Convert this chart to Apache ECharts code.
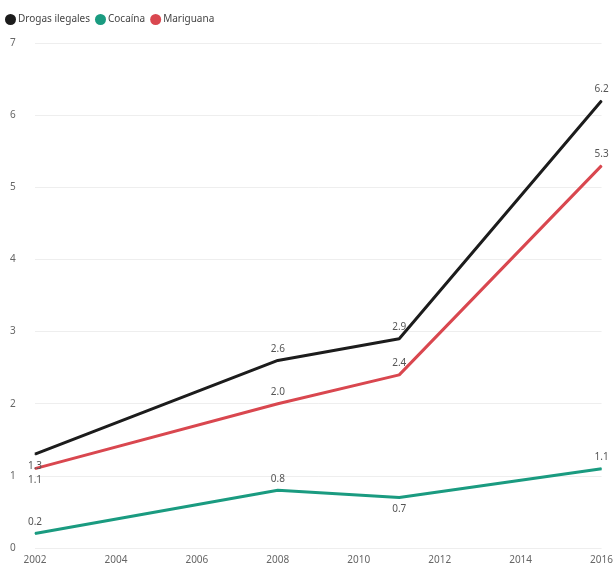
<!DOCTYPE html>
<html><head><meta charset="utf-8">
<script src="https://cdn.jsdelivr.net/npm/echarts@6/dist/echarts.min.js"></script>
<style>html,body{margin:0;padding:0;background:#fff}#c{width:616px;height:569px}</style>
</head><body><div id="c"></div>
<script>
const years = [2002, 2008, 2011, 2016];
const drogas = [1.3, 2.6, 2.9, 6.2];
const cocaina = [0.2, 0.8, 0.7, 1.1];
const mariguana = [1.1, 2.0, 2.4, 5.3];
const xTicks = [2002, 2004, 2006, 2008, 2010, 2012, 2014, 2016];

const lbl = () => ({
  show: true, fontSize: 10, color: '#555', fontFamily: 'Noto Sans', distance: 6,
  formatter: p => p.value[1].toFixed(1),
  position: 'top'
});
function mkData(arr, positions) {
  return years.map((y, i) => ({ value: [y, arr[i]], label: { position: positions[i] } }));
}
const chart = echarts.init(document.getElementById('c'));
chart.setOption({
  animation: false,
  textStyle: { fontFamily: 'Noto Sans' },
  legend: {
    left: 0, top: 9, icon: 'circle', itemWidth: 11, itemHeight: 11, itemGap: 5,
    textStyle: { fontSize: 10, color: '#444', padding: [0, 0, 0, -3] },
    data: ['Drogas ilegales', 'Cocaína', 'Mariguana']
  },
  grid: { left: 35, right: 12, top: 43, bottom: 21 },
  xAxis: {
    type: 'value', min: 2002, max: 2016, interval: 2,
    axisLine: { show: false }, axisTick: { show: false }, splitLine: { show: false },
    axisLabel: { fontSize: 10, color: '#666', margin: 7, formatter: v => xTicks.includes(v) ? String(v) : '' }
  },
  yAxis: {
    type: 'value', min: 0, max: 7, interval: 1,
    axisLine: { show: false }, axisTick: { show: false },
    splitLine: { lineStyle: { color: '#eeeeee', width: 1 } },
    axisLabel: { fontSize: 10, color: '#666', margin: 25, align: 'left' }
  },
  series: [
    { name: 'Drogas ilegales', type: 'line', data: mkData(drogas, ['bottom', 'top', 'top', 'top']),
      symbol: 'circle', symbolSize: 1, showSymbol: true, lineStyle: { width: 3, color: '#1c1c1c' }, itemStyle: { color: '#1c1c1c' },
      label: lbl(), z: 3 },
    { name: 'Cocaína', type: 'line', data: mkData(cocaina, ['top', 'top', 'bottom', 'top']),
      symbol: 'circle', symbolSize: 1, showSymbol: true, lineStyle: { width: 3, color: '#1a9b80' }, itemStyle: { color: '#1a9b80' },
      label: lbl(), z: 2 },
    { name: 'Mariguana', type: 'line', data: mkData(mariguana, ['bottom', 'top', 'top', 'top']),
      symbol: 'circle', symbolSize: 1, showSymbol: true, lineStyle: { width: 3, color: '#d9474f' }, itemStyle: { color: '#d9474f' },
      label: lbl(), z: 2 }
  ]
});
</script></body></html>
